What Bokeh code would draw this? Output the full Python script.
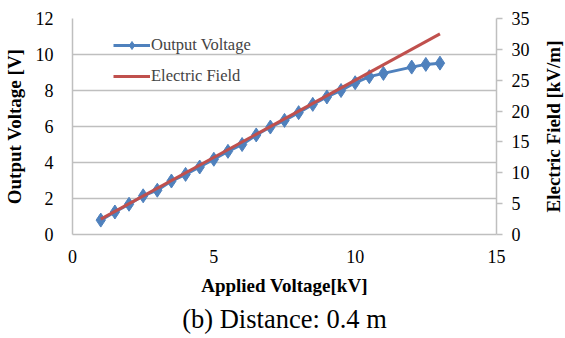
from bokeh.plotting import figure
from bokeh.layouts import row
from bokeh.models import LinearAxis, Range1d, FixedTicker, Legend, LegendItem, Title
from bokeh.embed import file_html
from bokeh.resources import INLINE

applied_kv = [1, 1.5, 2, 2.5, 3, 3.5, 4, 4.5, 5, 5.5, 6, 6.5, 7, 7.5, 8, 8.5, 9, 9.5, 10, 10.5, 11, 12, 12.5, 13]
output_v = [0.8, 1.25, 1.68, 2.15, 2.46, 2.97, 3.34, 3.75, 4.18, 4.62, 5.0, 5.53, 5.97, 6.34, 6.77, 7.23, 7.64, 8.0, 8.43, 8.77, 8.95, 9.3, 9.45, 9.52]
field_kv = [1, 13]
field_kvm = [2.5, 32.5]
x_ticks = [0, 5, 10, 15]
left_ticks = [0, 2, 4, 6, 8, 10, 12]
right_ticks = [0, 5, 10, 15, 20, 25, 30, 35]

SERIF = "'Liberation Serif', 'Times New Roman', serif"
GRAY = "#BFBFBF"
BLUE = "#4F81BD"
RED = "#C0504D"

p = figure(width=538, height=338, output_backend="svg", toolbar_location=None,
           x_range=Range1d(0, 15), y_range=Range1d(0, 12),
           min_border_left=69, min_border_right=42, min_border_top=18, min_border_bottom=104)
p.extra_y_ranges = {"e": Range1d(0, 35)}
p.outline_line_color = None
p.background_fill_color = "white"
p.border_fill_color = "white"
p.xgrid.visible = False
p.ygrid.grid_line_color = GRAY
p.ygrid.grid_line_width = 1.5
p.ygrid.ticker = FixedTicker(ticks=left_ticks)

xa = p.xaxis[0]
xa.ticker = FixedTicker(ticks=x_ticks)
xa.axis_label = "Applied Voltage[kV]"
xa.axis_line_color = GRAY
xa.axis_line_width = 1.5
xa.major_tick_out = 0
xa.major_tick_in = 0
xa.minor_tick_out = 0
xa.minor_tick_in = 0
xa.major_label_standoff = 15
xa.axis_label_standoff = 9

ya = p.yaxis[0]
ya.ticker = FixedTicker(ticks=left_ticks)
ya.axis_label = "Output Voltage [V]"
ya.axis_line_color = GRAY
ya.axis_line_width = 1.5
ya.major_tick_out = 0
ya.major_tick_in = 0
ya.minor_tick_out = 0
ya.minor_tick_in = 0
ya.major_label_standoff = 19
ya.axis_label_standoff = 8

ra = LinearAxis(y_range_name="e", ticker=FixedTicker(ticks=right_ticks))
ra.axis_line_color = GRAY
ra.axis_line_width = 1.5
ra.major_tick_line_color = GRAY
ra.major_tick_line_width = 1.5
ra.major_tick_out = 6
ra.major_tick_in = 0
ra.minor_tick_out = 0
ra.minor_tick_in = 0
ra.major_label_standoff = 9
p.add_layout(ra, "right")

for ax in (xa, ya, ra):
    ax.major_label_text_font = SERIF
    ax.major_label_text_font_size = "18px"
    ax.major_label_text_color = "black"
    ax.axis_label_text_font = SERIF
    ax.axis_label_text_font_size = "19px"
    ax.axis_label_text_font_style = "bold"
    ax.axis_label_text_color = "black"

r_blue = p.line(applied_kv, output_v, line_color=BLUE, line_width=3)
r_mark = p.scatter(applied_kv, output_v, marker="diamond", size=14,
                   fill_color=BLUE, line_color=BLUE)
r_red = p.line(field_kv, field_kvm, y_range_name="e", line_color=RED, line_width=3)

legend = Legend(items=[LegendItem(label="Output Voltage", renderers=[r_blue, r_mark]),
                       LegendItem(label="Electric Field", renderers=[r_red])],
                location=(41, 148))
legend.border_line_color = None
legend.background_fill_alpha = 0
legend.label_text_font = SERIF
legend.label_text_font_size = "16.5px"
legend.glyph_width = 37
legend.glyph_height = 20
legend.label_height = 20
legend.spacing = 11
legend.padding = 0
legend.margin = 0
legend.label_standoff = 1
p.add_layout(legend)

cap = Title(text="(b) Distance: 0.4 m", align="center", text_font=SERIF,
            text_font_size="26.5px", text_font_style="normal", text_color="black",
            standoff=7)
p.add_layout(cap, "below")

# narrow companion figure carrying the right-hand axis title (reads bottom-to-top)
p2 = figure(width=27, height=338, output_backend="svg", toolbar_location=None,
            x_range=Range1d(0, 1), y_range=Range1d(0, 35), x_axis_location=None,
            min_border_left=25, min_border_right=0, min_border_top=18, min_border_bottom=104)
p2.outline_line_color = None
p2.background_fill_color = "white"
p2.border_fill_color = "white"
p2.grid.visible = False
ta = p2.yaxis[0]
ta.ticker = FixedTicker(ticks=[])
ta.axis_label = "Electric Field [kV/m]"
ta.axis_line_color = None
ta.major_tick_out = 0
ta.major_tick_in = 0
ta.minor_tick_out = 0
ta.minor_tick_in = 0
ta.major_label_standoff = 0
ta.axis_label_standoff = 0
ta.axis_label_text_font = SERIF
ta.axis_label_text_font_size = "19px"
ta.axis_label_text_font_style = "bold"
ta.axis_label_text_color = "black"

layout = row(p, p2, spacing=0)
open("out.html", "w").write(file_html(layout, INLINE))
